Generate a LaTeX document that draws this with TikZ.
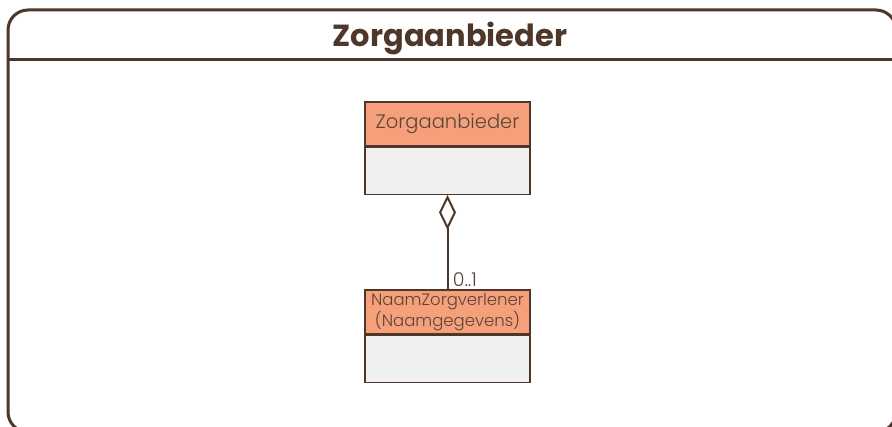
\documentclass[tikz,border=0pt]{standalone}
\usepackage{fontspec}
\setmainfont{Poppins}
\newfontfamily\dunfont{Poppins Light}
\usetikzlibrary{positioning,arrows.meta}

\definecolor{umlrand}{HTML}{4E3629}
\definecolor{umlkop}{HTML}{F5A07B}
\definecolor{umlromp}{HTML}{F0F0F0}
\definecolor{umltekst}{HTML}{5A4538}

\begin{document}
\begin{tikzpicture}[x=1pt, y=-1pt,
	kop/.style={draw=umlrand, fill=umlkop, line width=1.3pt, text=umltekst,
		minimum width=165pt, minimum height=44pt, inner sep=0pt, align=center},
	romp/.style={draw=umlrand, fill=umlromp, line width=1.3pt,
		minimum width=165pt, minimum height=47pt, inner sep=0pt},
	aggregatie/.style={umlrand, line width=2pt,
		{Diamond[open, length=35pt, width=17pt]}-}]
\useasboundingbox (0,0) rectangle (892,427);
\clip (0,0) rectangle (892,427);

% Pakket
\begin{scope}[local bounding box=Pakket]
	% Rand en kopregel
	\draw[umlrand, line width=3pt, rounded corners=20pt] (8,10) rectangle (896,432);
	\draw[umlrand, line width=3pt] (8,60) -- (896,60);
	\node[text=umlrand, font=\fontsize{30.5}{36}\selectfont\bfseries] (titel) at (450,38) {Zorgaanbieder};
\end{scope}

% Klasse Zorgaanbieder
\node[kop, font=\fontsize{19.5}{23}\selectfont\dunfont] (zorgkop) at (447.5,124) {Zorgaanbieder};
\node[romp, below=0pt of zorgkop] (zorgromp) {};

% Klasse NaamZorgverlener
\node[kop, font=\fontsize{16.5}{19}\selectfont\dunfont] (naamkop) at (447.5,312) {NaamZorgverlener\\(Naamgegevens)};
\node[romp, below=0pt of naamkop] (naamromp) {};

% Aggregatie
\draw[aggregatie] (zorgromp.south) -- (naamkop.north)
	node[above right=-2pt and 1pt, text=umltekst, font=\fontsize{19}{21}\selectfont\dunfont] (multi) {0..1};
\end{tikzpicture}
\end{document}
